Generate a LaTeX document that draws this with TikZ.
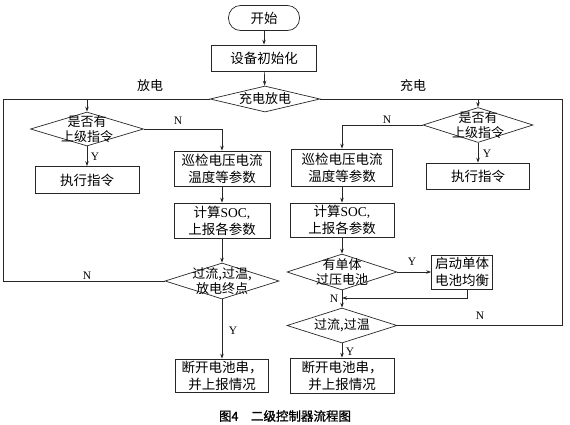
\documentclass[tikz,border=0pt]{standalone}
\usepackage{fontspec}
\setmainfont{Liberation Serif}
\newfontfamily\cjk{Noto Sans CJK SC}
\newfontfamily\cjkcap{Noto Sans CJK SC}[FakeBold=1.2]
\usetikzlibrary{shapes.geometric,arrows.meta}
\begin{document}
\begin{tikzpicture}[x=1pt,y=-1pt,line width=0.7pt,draw=black!85,
    arr/.style={-{Stealth[length=5pt,width=3.5pt]}},
    proc/.style={draw,rectangle,inner sep=0pt,align=center,font=\cjk\fontsize{13.5}{17}\selectfont},
    dec/.style={draw,diamond,inner sep=0pt},
    dtxt/.style={align=center,inner sep=0pt,font=\cjk\fontsize{13}{14.5}\selectfont},
    yn/.style={inner sep=1pt,font=\fontsize{11.5}{11.5}\selectfont},
    side/.style={inner sep=1pt,font=\cjk\fontsize{13}{14}\selectfont}]
  \useasboundingbox (0,0) rectangle (570,424);
  % oben
  \node[draw,rounded corners=12pt,minimum width=71pt,minimum height=25pt,font=\cjk\fontsize{13.5}{14}\selectfont] (start) at (264,18) {开始};
  \node[proc,minimum width=105pt,minimum height=26pt] (init) at (264,58) {设备初始化};
  \node[dec,minimum width=110pt,minimum height=26pt,label={[dtxt]center:{充电放电}}] (cd) at (265,99) {};
  %放电 (links)
  \node[dec,minimum width=113pt,minimum height=34pt,label={[dtxt]center:{是否有\\上级指令}}] (dL1) at (87,129) {};
  \node[proc,minimum width=104pt,minimum height=27pt] (exeL) at (87,180) {执行指令};
  \node[proc,minimum width=96pt,minimum height=35pt] (boxL2) at (222,168.5) {巡检电压电流\\温度等参数};
  \node[proc,minimum width=96pt,minimum height=35pt] (socL) at (222,220.5) {计算{\rmfamily SOC,}\\上报各参数};
  \node[dec,minimum width=114pt,minimum height=36pt,label={[dtxt]center:{过流,过温,\\放电终点}}] (dE) at (222,281) {};
  \node[proc,minimum width=93pt,minimum height=33pt] (cutL) at (222,375.5) {断开电池串，\\并上报情况};
  % 充电 (rechts)
  \node[dec,minimum width=110pt,minimum height=35pt,label={[dtxt]center:{是否有\\上级指令}}] (dR1) at (478,125) {};
  \node[proc,minimum width=103pt,minimum height=26pt] (exeR) at (478,176) {执行指令};
  \node[proc,minimum width=101pt,minimum height=37pt] (boxR2) at (342,167.5) {巡检电压电流\\温度等参数};
  \node[proc,minimum width=104pt,minimum height=34pt] (socR) at (342,220) {计算{\rmfamily SOC,}\\上报各参数};
  \node[dec,minimum width=110pt,minimum height=36pt,label={[dtxt]center:{有单体\\过压电池}}] (dV) at (342,272) {};
  \node[proc,minimum width=61pt,minimum height=34pt] (bal) at (462,272) {启动单体\\电池均衡};
  \node[dec,minimum width=110pt,minimum height=35pt,label={[dtxt]center:{过流,过温}}] (dO) at (342,325.5) {};
  \node[proc,minimum width=104pt,minimum height=35pt] (cutR) at (342,375.5) {断开电池串，\\并上报情况};
  \coordinate (lt) at (3,99);
  \coordinate (rt) at (562,99);
  \coordinate (mj) at (342,298);
  % Verbindungen
  \draw[arr] (start) -- (init);
  \draw[arr] (init) -- (cd);
  \draw[arr] (cd.west) -| (dL1.north);
  \draw[arr] (cd.east) -| (dR1.north);
  \draw[arr] (dL1.east) -| (boxL2.north);
  \draw[arr] (dL1) -- (exeL);
  \draw[arr] (boxL2) -- (socL);
  \draw[arr] (socL) -- (dE);
  \draw[arr] (dE) -- (cutL);
  \draw (dE.west) -| (lt) -- (cd.west);
  \draw[arr] (dR1.west) -| (boxR2.north);
  \draw[arr] (dR1) -- (exeR);
  \draw[arr] (boxR2) -- (socR);
  \draw[arr] (socR) -- (dV);
  \draw[arr] (dV) -- (bal);
  \draw[arr] ([xshift=5pt]bal.south) |- (mj);
  \draw[arr] (dV) -- (dO);
  \draw[arr] (dO) -- (cutR);
  \draw (dO.east) -| (rt) -- (cd.east);
  % Beschriftungen
  \node[side] (tDis) at (150,86) {放电};
  \node[side] (tChg) at (413,86) {充电};
  \node[yn] (nL1) at (178,121) {N};
  \node[yn] (yL1) at (95,157) {Y};
  \node[yn] (nE) at (87,276) {N};
  \node[yn] (yE) at (233,331) {Y};
  \node[yn] (nR1) at (387,120) {N};
  \node[yn] (yR1) at (487,154) {Y};
  \node[yn] (yV) at (412,262) {Y};
  \node[yn] (nV) at (334,299) {N};
  \node[yn] (nO) at (480,316) {N};
  \node[yn] (yO) at (350,352) {Y};
  \node[font=\cjkcap\fontsize{12.5}{12.5}\selectfont] (cap) at (285,416) {图4\quad 二级控制器流程图};
\end{tikzpicture}
\end{document}
